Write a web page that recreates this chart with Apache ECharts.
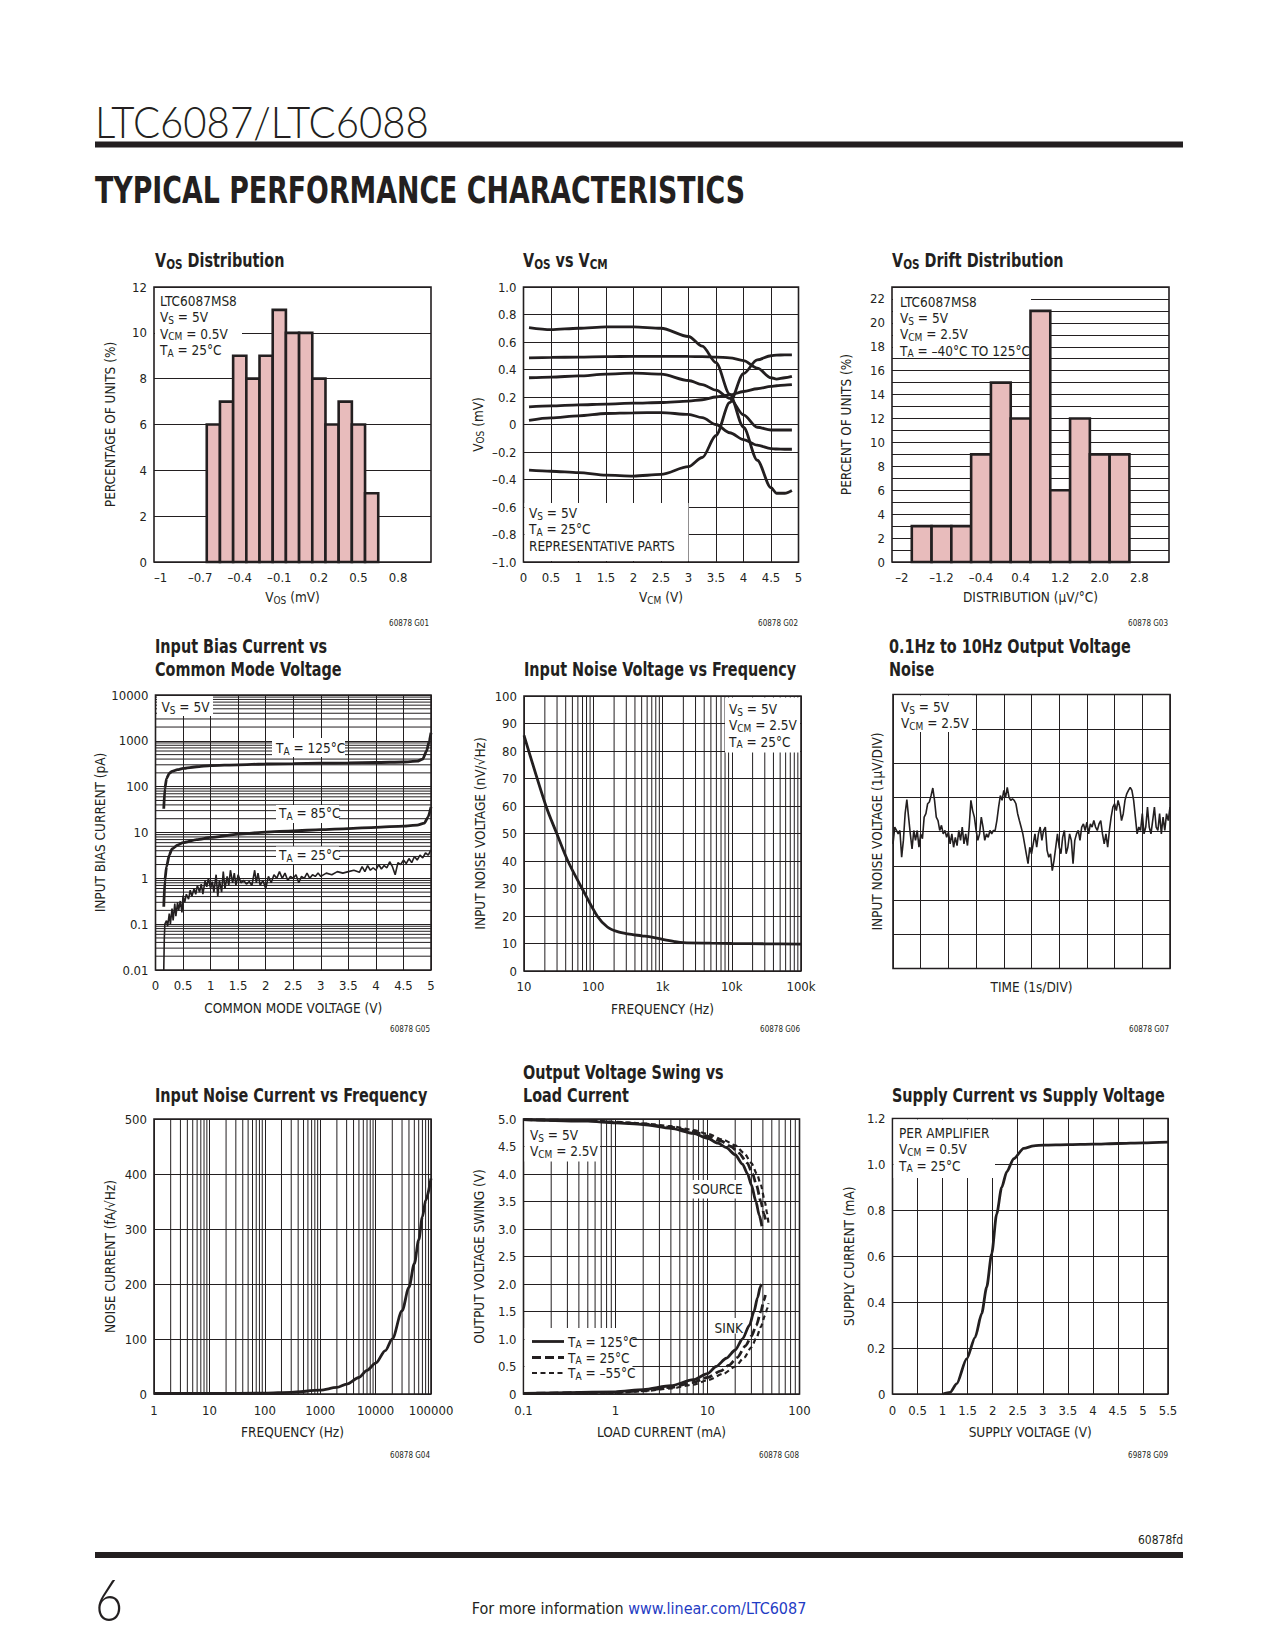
<!DOCTYPE html>
<html><head><meta charset="utf-8">
<script src="https://cdn.jsdelivr.net/npm/echarts@6/dist/echarts.min.js"></script>
<style>html,body{margin:0;padding:0;background:#fff}#c{width:1275px;height:1650px}</style>
</head><body><div id="c"></div>
<script>
// ---------------- DATA ----------------
// G01 VOS distribution
const vosCenters = [-0.6,-0.5,-0.4,-0.3,-0.2,-0.1,0,0.1,0.2,0.3,0.4,0.5,0.6];
const vosPct = [6,7,9,8,9,11,10,10,8,6,7,6,3];
const vosBinWidth = 0.1;
const vosTicks = [-1,-0.7,-0.4,-0.1,0.2,0.5,0.8];
// G02 VOS vs VCM
const vcm = [0.1,0.5,1,1.5,2,2.5,3,3.25,3.5,3.75,4,4.25,4.5,4.6,4.75,4.88];
const vosA = [0.705,0.69,0.70,0.71,0.71,0.70,0.64,0.57,0.45,0.22,-0.02,-0.26,-0.46,-0.50,-0.50,-0.48];
const vosB = [0.484,0.488,0.49,0.493,0.496,0.496,0.495,0.493,0.49,0.485,0.465,0.41,0.34,0.33,0.34,0.35];
const vosC = [0.34,0.345,0.353,0.366,0.373,0.366,0.32,0.29,0.25,0.19,0.07,-0.02,-0.04,-0.04,-0.04,-0.04];
const vosD = [0.128,0.135,0.143,0.148,0.155,0.16,0.17,0.18,0.20,0.215,0.24,0.26,0.277,0.282,0.287,0.29];
const vosE = [0.03,0.048,0.063,0.08,0.085,0.087,0.073,0.05,0.0,-0.06,-0.11,-0.15,-0.175,-0.178,-0.18,-0.18];
const vosF = [-0.332,-0.34,-0.35,-0.368,-0.375,-0.363,-0.307,-0.24,-0.08,0.16,0.37,0.47,0.50,0.505,0.506,0.506];
// G03 VOS drift distribution
const driftCenters = [-1.6,-1.2,-0.8,-0.4,0,0.4,0.8,1.2,1.6,2.0,2.4];
const driftPct = [3,3,3,9,15,12,21,6,12,9,9];
const driftBinWidth = 0.4;
const driftTicks = [-2,-1.2,-0.4,0.4,1.2,2.0,2.8];
// G05 input bias current (pA) vs VCM
const bias125 = [[0.15,33],[0.17,90],[0.2,150],[0.25,195],[0.3,215],[0.4,235],[0.5,250],[0.75,272],[1,288],[1.5,300],[2,312],[2.5,318],[3,325],[3.5,330],[4,337],[4.5,345],[4.75,360],[4.85,400],[4.92,600],[4.97,1000],[5,1500]];
const bias85 = [[0.15,0.24],[0.17,0.9],[0.2,1.8],[0.25,3.2],[0.3,4.4],[0.4,5.3],[0.5,6],[0.75,7],[1,7.8],[1.5,9.2],[2,10.2],[2.5,10.9],[3,11.5],[3.5,12.2],[4,13],[4.5,13.8],[4.75,14.5],[4.88,16],[4.95,22],[5,36]];
const bias25 = [[0.15,0.01],[0.16,0.05],[0.17,0.1],[0.2,0.12],[0.22,0.09],[0.25,0.17],[0.27,0.1],[0.3,0.22],[0.32,0.12],[0.35,0.28],[0.37,0.15],[0.4,0.3],[0.42,0.2],[0.45,0.32],[0.48,0.18],[0.5,0.42],[0.53,0.3],[0.56,0.45],[0.6,0.35],[0.63,0.55],[0.66,0.4],[0.7,0.6],[0.73,0.45],[0.76,0.7],[0.8,0.5],[0.83,0.75],[0.86,0.45],[0.9,0.9],[0.93,0.65],[0.96,1.0],[1.0,0.6],[1.03,0.85],[1.06,0.5],[1.1,1.2],[1.13,0.4],[1.16,0.9],[1.2,0.5],[1.23,1.4],[1.26,0.6],[1.3,1.1],[1.33,0.7],[1.36,1.5],[1.4,0.8],[1.43,1.3],[1.46,0.7],[1.5,1.2],[1.55,0.8],[1.6,0.9],[1.65,0.75],[1.7,0.85],[1.75,0.7],[1.8,1.5],[1.83,0.8],[1.86,1.3],[1.9,0.7],[1.95,0.9],[2.0,0.6],[2.05,1.1],[2.1,0.8],[2.15,1.2],[2.2,1.0],[2.25,1.4],[2.3,1.0],[2.35,1.3],[2.4,0.9],[2.45,1.1],[2.5,1.0],[2.55,1.2],[2.6,0.8],[2.65,1.1],[2.7,1.0],[2.75,1.3],[2.8,1.0],[2.85,1.2],[2.9,1.1],[2.95,1.3],[3.0,1.1],[3.1,1.3],[3.2,1.2],[3.3,1.4],[3.4,1.3],[3.5,1.4],[3.6,1.5],[3.7,1.35],[3.75,1.8],[3.8,1.4],[3.85,1.9],[3.9,1.5],[3.95,1.7],[4.0,1.5],[4.05,2.0],[4.1,1.6],[4.15,1.9],[4.2,1.7],[4.25,2.3],[4.3,1.8],[4.35,1.2],[4.4,2.2],[4.45,2.0],[4.5,2.5],[4.55,2.1],[4.6,2.7],[4.65,2.2],[4.7,3.0],[4.75,2.5],[4.8,3.2],[4.85,2.8],[4.9,3.6],[4.95,3.2],[5.0,4.2]];
// G06 input noise voltage vs frequency
const enFreq = [10,20.75,29.7,43,69,114,160,224,314,500,700,1000,1500,2000,5000,10000,30000,100000];
const enVal = [85.7,60,50,40,30,20,16,14.3,13.5,12.8,12.3,11.5,10.7,10.3,10.1,10.0,9.9,9.8];
// G07 0.1Hz to 10Hz noise (uV), evenly spaced over 10 s
const lfNoise = [-0.36,0.13,0.03,-0.07,0.03,-0.75,-0.26,0.52,0.93,0.42,-0.07,-0.51,0.03,-0.26,0.03,-0.46,-0.07,-0.21,0.42,0.52,0.81,0.86,1.05,1.27,0.91,0.42,0.32,0.03,0.18,-0.07,0.03,-0.17,-0.02,-0.36,-0.07,-0.46,-0.17,-0.41,0.03,-0.26,0.13,-0.36,-0.07,-0.41,0.13,0.91,0.61,0.42,0.03,-0.26,-0.07,0.42,0.13,-0.26,-0.07,-0.17,0.03,-0.07,0.03,0.03,0.32,0.71,1.05,0.91,1.2,1.0,1.29,1.0,0.91,0.95,0.91,0.81,0.52,0.32,0.13,-0.07,-0.36,-0.65,-0.94,-0.46,-0.65,-0.36,-0.07,-0.46,-0.07,0.13,-0.26,0.03,0.13,-0.55,-0.75,-0.65,-1.14,-0.85,-0.46,-0.07,-0.46,-0.65,-0.17,0.03,-0.65,-0.46,-0.07,-0.26,-0.94,-0.26,-0.07,0.03,-0.26,0.13,0.22,0.03,0.27,-0.07,0.22,0.13,0.32,0.13,0.03,0.22,0.32,-0.07,-0.36,-0.07,-0.46,0.03,0.42,0.71,0.81,0.61,0.91,0.71,0.32,0.52,0.91,1.1,1.2,1.29,1.2,0.91,0.42,-0.07,0.13,0.03,0.52,-0.07,0.13,0.71,0.13,-0.07,0.32,0.71,0.13,0.03,0.52,-0.07,0.42,0.03,0.52,0.32,0.71];
const lfDuration = 10;
// G04 input noise current vs frequency
const inFreq = [1,10,100,300,1000,2000,3000,5000,7000,10000,15000,20000,30000,40000,50000,60000,70000,80000,100000];
const inVal = [1,1,1.5,3,7,12,18,30,43,56,79,100,151,194,237,280,322,352,392];
// G08 output voltage swing vs load current (mA, V)
const src125 = [[0.1,4.99],[0.5,4.96],[1,4.93],[2,4.90],[4,4.83],[7,4.74],[10,4.65],[13,4.56],[16,4.48],[20,4.35],[24,4.18],[27.3,4.0],[30,3.8],[33.6,3.5],[36.5,3.25],[39,3.05]];
const src25 = [[0.1,4.99],[0.5,4.97],[1,4.94],[2,4.91],[4,4.85],[7,4.77],[10,4.69],[14,4.60],[18,4.50],[22,4.38],[27,4.2],[31,4.0],[34,3.8],[38,3.5],[41,3.28],[43.5,3.1]];
const srcM55 = [[0.1,4.99],[0.5,4.97],[1,4.95],[2,4.92],[4,4.87],[7,4.80],[10,4.73],[15,4.62],[20,4.52],[25,4.38],[30,4.2],[34.5,4.0],[38,3.8],[42,3.5],[44.5,3.28],[46,3.1]];
const snk125 = [[0.1,0.01],[1,0.04],[2,0.08],[4,0.15],[7,0.26],[10,0.37],[12.4,0.5],[16,0.65],[20,0.8],[24,1.0],[28.6,1.25],[32,1.5],[35,1.75],[37.5,1.95],[38.5,2.0]];
const snk25 = [[0.1,0.01],[1,0.03],[2,0.06],[4,0.12],[7,0.21],[10,0.3],[14,0.42],[17,0.52],[21,0.66],[26,0.88],[30,1.05],[34,1.25],[38,1.5],[41,1.7],[42.6,1.8]];
const snkM55 = [[0.1,0.01],[1,0.02],[2,0.05],[4,0.1],[7,0.17],[10,0.25],[15,0.37],[20,0.5],[25,0.66],[30,0.85],[34,1.02],[38,1.22],[42,1.42],[44.5,1.55],[46,1.65]];
const swingLegend = ['T_{A} = 125\u00b0C', 'T_{A} = 25\u00b0C', 'T_{A} = \u201355\u00b0C'];
// G09 supply current vs supply voltage
const vsup = [1.0,1.15,1.28,1.48,1.65,1.78,1.88,1.98,2.08,2.18,2.28,2.42,2.62,2.82,3.02,3.5,4,4.5,5,5.5];
const isup = [0,0.007,0.044,0.153,0.247,0.35,0.465,0.61,0.785,0.9,0.967,1.025,1.07,1.081,1.084,1.086,1.088,1.091,1.094,1.097];

// ---------------- STYLE ----------------
const INK = '#231f20';
const FONT = "'Liberation Sans Narrow','Arial Narrow','DejaVu Sans Condensed',sans-serif";
const PINK = '#e8bcbc';

function R(str, n, s) {
  return str.split('\n').map(line => {
    let out = '', re = /_\{([^}]*)\}/g, last = 0, m;
    while ((m = re.exec(line))) {
      if (m.index > last) out += '{' + n + '|' + line.slice(last, m.index) + '}';
      out += '{' + s + '|' + m[1] + '}';
      last = re.lastIndex;
    }
    if (last < line.length) out += '{' + n + '|' + line.slice(last) + '}';
    return out;
  }).join('\n');
}
const RICH = {
  n: {fontFamily: FONT, fontSize: 13.5, fontWeight: 'normal', color: INK, lineHeight: 16.3},
  s: {fontFamily: FONT, fontSize: 10, fontWeight: 'normal', color: INK, lineHeight: 9, verticalAlign: 'bottom'},
  an: {fontFamily: FONT, fontSize: 13.5, fontWeight: 'normal', color: INK, lineHeight: 16},
  as: {fontFamily: FONT, fontSize: 10, fontWeight: 'normal', color: INK, lineHeight: 9, verticalAlign: 'bottom'}
};
// zrender rich styles for graphic (title) text
const GRICH = {
  tn: {fontFamily: FONT, fontSize: 20, fontWeight: 'bold', fill: INK, lineHeight: 23},
  ts: {fontFamily: FONT, fontSize: 14.5, fontWeight: 'bold', fill: INK, lineHeight: 13, verticalAlign: 'bottom'}
};

const dash = v => (v < 0 ? '\u2013' : '') + Math.abs(v);
const dash1 = v => v === 0 ? '0' : (v < 0 ? '\u2013' : '') + Math.abs(v).toFixed(1);
const fix1 = v => v === 0 ? '0' : v.toFixed(1);
const logLbl = v => { const e = Math.round(Math.log10(v)); return e >= 0 ? String(Math.pow(10, e)) : Math.pow(10, e).toFixed(-e); };
const kLbl = v => { const e = Math.round(Math.log10(v)); return e >= 3 ? Math.pow(10, e - 3) + 'k' : String(Math.pow(10, e)); };
function minorLogs(lo, hi) { const r = []; for (let d = lo; d < hi; d *= 10) for (let m = 2; m <= 9; m++) r.push(+(d * m).toPrecision(3)); return r; }

const grids = [
  {left: 154, top: 287, width: 277, height: 275},
  {left: 523.5, top: 287, width: 275, height: 275},
  {left: 892, top: 287, width: 277, height: 275},
  {left: 155.5, top: 695, width: 275.5, height: 275},
  {left: 524, top: 696, width: 277, height: 275},
  {left: 893, top: 694.5, width: 277, height: 274},
  {left: 154, top: 1119, width: 277, height: 275},
  {left: 523.5, top: 1119, width: 276, height: 275},
  {left: 892.5, top: 1118.5, width: 275.5, height: 275.5}
].map(g => Object.assign({show: true, borderColor: INK, borderWidth: 1.6, backgroundColor: 'transparent', outerBoundsMode: 'none'}, g));

function mkAxis(gi, type, o) {
  const a = {
    gridIndex: gi, type: type,
    axisLine: {show: false}, axisTick: {show: false},
    splitLine: {show: o.split !== false, lineStyle: {color: INK, width: 1}},
    axisLabel: Object.assign({color: INK, fontFamily: FONT, fontSize: 13, margin: o.margin || 8}, o.label || {}),
    name: o.name ? R(o.name, 'an', 'as') : '',
    nameLocation: 'middle', nameGap: o.gap,
    nameTextStyle: {color: INK, fontFamily: FONT, fontSize: 13.5, rich: RICH},
    min: o.min, max: o.max
  };
  if (o.interval != null) a.interval = o.interval;
  if (type === 'log') a.logBase = 10;
  return a;
}

const xAxis = [
  mkAxis(0, 'value', {min: -1.05, max: 1.05, split: false, name: 'V_{OS} (mV)', gap: 27, margin: 8.5, label: {customValues: vosTicks, formatter: dash}}),
  mkAxis(1, 'value', {min: 0, max: 5, interval: 0.5, name: 'V_{CM} (V)', gap: 27, margin: 8.5}),
  mkAxis(2, 'value', {min: -2.2, max: 3.4, split: false, name: 'DISTRIBUTION (\u00b5V/\u00b0C)', gap: 27, margin: 8.5, label: {customValues: driftTicks, formatter: v => v === -2 ? '\u20132' : dash1(v)}}),
  mkAxis(3, 'value', {min: 0, max: 5, interval: 0.5, name: 'COMMON MODE VOLTAGE (V)', gap: 30, margin: 9}),
  mkAxis(4, 'log', {min: 10, max: 100000, name: 'FREQUENCY (Hz)', gap: 30, margin: 9, label: {formatter: kLbl}}),
  mkAxis(5, 'value', {min: 0, max: 10, interval: 1, name: 'TIME (1s/DIV)', gap: 10, label: {show: false}}),
  mkAxis(6, 'log', {min: 1, max: 100000, name: 'FREQUENCY (Hz)', gap: 29.5, margin: 9.5, label: {formatter: logLbl}}),
  mkAxis(7, 'log', {min: 0.1, max: 100, name: 'LOAD CURRENT (mA)', gap: 29.5, margin: 9.5, label: {formatter: logLbl}}),
  mkAxis(8, 'value', {min: 0, max: 5.5, interval: 0.5, name: 'SUPPLY VOLTAGE (V)', gap: 29.5, margin: 9.5})
];
const yAxis = [
  mkAxis(0, 'value', {min: 0, max: 12, interval: 2, name: 'PERCENTAGE OF UNITS (%)', gap: 36, margin: 7}),
  mkAxis(1, 'value', {min: -1, max: 1, interval: 0.2, name: 'V_{OS} (mV)', gap: 38, margin: 7, label: {formatter: dash1}}),
  mkAxis(2, 'value', {min: 0, max: 23, interval: 1, name: 'PERCENT OF UNITS (%)', gap: 38, margin: 7, label: {customValues: [0,2,4,6,8,10,12,14,16,18,20,22]}}),
  mkAxis(3, 'log', {min: 0.01, max: 10000, name: 'INPUT BIAS CURRENT (pA)', gap: 36, margin: 7, label: {formatter: logLbl}}),
  mkAxis(4, 'value', {min: 0, max: 100, interval: 10, name: 'INPUT NOISE VOLTAGE (nV/\u221aHz)', gap: 36.5, margin: 7}),
  mkAxis(5, 'value', {min: -4, max: 4, interval: 1, name: 'INPUT NOISE VOLTAGE (1\u00b5V/DIV)', gap: 8, label: {show: false}}),
  mkAxis(6, 'value', {min: 0, max: 500, interval: 100, name: 'NOISE CURRENT (fA/\u221aHz)', gap: 36, margin: 7}),
  mkAxis(7, 'value', {min: 0, max: 5, interval: 0.5, name: 'OUTPUT VOLTAGE SWING (V)', gap: 37, margin: 7, label: {formatter: fix1}}),
  mkAxis(8, 'value', {min: 0, max: 1.2, interval: 0.2, name: 'SUPPLY CURRENT (mA)', gap: 36, margin: 7, label: {formatter: fix1}})
];

function hist(gi, centers, vals, w) {
  return {type: 'custom', xAxisIndex: gi, yAxisIndex: gi, z: 4, silent: true,
    data: centers.map((c, i) => [c, vals[i]]),
    renderItem: (params, api) => {
      const c = api.value(0), v = api.value(1);
      const p0 = api.coord([c - w / 2, 0]), p1 = api.coord([c + w / 2, v]);
      return {type: 'rect', shape: {x: p0[0], y: p1[1], width: p1[0] - p0[0], height: p0[1] - p1[1]},
        style: {fill: PINK, stroke: INK, lineWidth: 2.6}};
    }};
}
function minorGrid(gi, vals, dir, ref) {
  return {type: 'custom', xAxisIndex: gi, yAxisIndex: gi, z: 1, silent: true,
    data: vals.map(v => dir === 'v' ? [v, ref] : [ref, v]),
    renderItem: (params, api) => {
      const cs = params.coordSys;
      const p = api.coord([api.value(0), api.value(1)]);
      const shape = dir === 'v' ? {x1: p[0], y1: cs.y, x2: p[0], y2: cs.y + cs.height}
                                : {x1: cs.x, y1: p[1], x2: cs.x + cs.width, y2: p[1]};
      return {type: 'line', shape: shape, style: {stroke: INK, lineWidth: 1}};
    }};
}
function line(gi, data, o) {
  return Object.assign({type: 'line', xAxisIndex: gi, yAxisIndex: gi, data: data, symbol: 'none',
    smooth: 0.3, smoothMonotone: 'x', z: 4, silent: true,
    lineStyle: {color: INK, width: 2.8}, itemStyle: {color: INK}}, o || {});
}
const zip = (xs, ys) => xs.map((x, i) => [x, ys[i]]);
const LS_SOLID = {color: INK, width: 2.8};
const LS_LONG = {color: INK, width: 2.8, type: [9, 4]};
const LS_SHORT = {color: INK, width: 2.2, type: [5, 3.5]};

const series = [
  hist(0, vosCenters, vosPct, vosBinWidth),
  line(1, zip(vcm, vosA)), line(1, zip(vcm, vosB)), line(1, zip(vcm, vosC)),
  line(1, zip(vcm, vosD)), line(1, zip(vcm, vosE)), line(1, zip(vcm, vosF)),
  hist(2, driftCenters, driftPct, driftBinWidth),
  minorGrid(3, minorLogs(0.01, 10000), 'h', 2.5),
  line(3, bias125, {smooth: 0.2}), line(3, bias85, {smooth: 0.2}),
  line(3, bias25, {smooth: false, lineStyle: {color: INK, width: 1.6}}),
  minorGrid(4, minorLogs(10, 100000), 'v', 50),
  line(4, zip(enFreq, enVal), {smooth: 0.3, smoothMonotone: null}),
  line(5, lfNoise.map((v, i) => [i * lfDuration / (lfNoise.length - 1), v]), {smooth: false, lineStyle: {color: INK, width: 1.6}}),
  minorGrid(6, minorLogs(1, 100000), 'v', 250),
  line(6, zip(inFreq, inVal)),
  minorGrid(7, minorLogs(0.1, 100), 'v', 2.5),
  line(7, src125, {name: swingLegend[0], smooth: 0.25, lineStyle: LS_SOLID}),
  line(7, snk125, {name: swingLegend[0], smooth: 0.25, lineStyle: LS_SOLID}),
  line(7, src25, {name: swingLegend[1], smooth: 0.25, lineStyle: LS_LONG}),
  line(7, snk25, {name: swingLegend[1], smooth: 0.25, lineStyle: LS_LONG}),
  line(7, srcM55, {name: swingLegend[2], smooth: 0.25, lineStyle: LS_SHORT}),
  line(7, snkM55, {name: swingLegend[2], smooth: 0.25, lineStyle: LS_SHORT}),
  line(8, zip(vsup, isup), {smooth: 0.25})
];

// ---------------- annotations (title components, rich text) ----------------
function T(text, left, top) {
  return {text: R(text, 'n', 's'), left: left, top: top, padding: 0,
    textStyle: {rich: RICH, fontFamily: FONT, color: INK, fontWeight: 'normal'}};
}
const notes = [
  T('LTC6087MS8\nV_{S} = 5V\nV_{CM} = 0.5V\nT_{A} = 25\u00b0C', 160, 293),
  T('V_{S} = 5V\nT_{A} = 25\u00b0C\nREPRESENTATIVE PARTS', 529, 505),
  T('LTC6087MS8\nV_{S} = 5V\nV_{CM} = 2.5V\nT_{A} = \u201340\u00b0C TO 125\u00b0C', 900, 293.5),
  T('V_{S} = 5V', 161.5, 699),
  T('T_{A} = 125\u00b0C', 276, 740),
  T('T_{A} = 85\u00b0C', 279, 805),
  T('T_{A} = 25\u00b0C', 279, 847),
  T('V_{S} = 5V\nV_{CM} = 2.5V\nT_{A} = 25\u00b0C', 729, 701),
  T('V_{S} = 5V\nV_{CM} = 2.5V', 901, 699),
  T('V_{S} = 5V\nV_{CM} = 2.5V', 530, 1127),
  T('SOURCE', 692.5, 1181),
  T('SINK', 714.6, 1320),
  T('PER AMPLIFIER\nV_{CM} = 0.5V\nT_{A} = 25\u00b0C', 899, 1125),
  T(swingLegend[0], 568, 1333.5),
  T(swingLegend[1], 568, 1349.5),
  T(swingLegend[2], 568, 1365)
];
// chart titles [text, left, top]
const chartTitles = [
  ['V_{OS} Distribution', 155, 248.5],
  ['V_{OS} vs V_{CM}', 523, 248.5],
  ['V_{OS} Drift Distribution', 892, 248.5],
  ['Input Bias Current vs\nCommon Mode Voltage', 155, 634.5],
  ['Input Noise Voltage vs Frequency', 524, 657.5],
  ['0.1Hz to 10Hz Output Voltage\nNoise', 889, 634.5],
  ['Input Noise Current vs Frequency', 155, 1083.5],
  ['Output Voltage Swing vs\nLoad Current', 523, 1060.5],
  ['Supply Current vs Supply Voltage', 892, 1083.5]
];
// figure ids
const ids = [['60878 G01', 429, 623], ['60878 G02', 798, 623], ['60878 G03', 1168, 623],
             ['60878 G05', 430, 1029], ['60878 G06', 800, 1029], ['60878 G07', 1169, 1029],
             ['60878 G04', 430, 1455], ['60878 G08', 799, 1455], ['69878 G09', 1168, 1455]];

// white boxes that hide grid lines behind annotations [x, y, w, h]
const boxes = [[155, 288.5, 87, 76], [524.5, 503, 164, 58], [893, 288.5, 138, 67],
  [157, 696, 56, 20], [272, 738, 73, 19], [276, 805, 63, 18], [276, 846.5, 63, 17.5],
  [725, 697.5, 75, 55], [894, 695.5, 78, 36.5], [524.5, 1120.5, 75.5, 41],
  [524.5, 1328, 108, 65], [690, 1180, 54, 18.5], [710, 1318, 34, 15.5], [893.5, 1119.5, 101.5, 58.5]];

// ---------------- header / footer ----------------
const mctx = document.createElement('canvas').getContext('2d');
function fitText(text, font, x, y, targetW, fill) {
  mctx.font = font;
  const w = mctx.measureText(text).width || targetW;
  return {type: 'text', x: x, y: y, scaleX: targetW / w, z: 10,
    style: {text: text, font: font, fill: fill || INK, verticalAlign: 'middle', align: 'left'}};
}
const THIN = "'DejaVu Sans ExtraLight','Lato','DejaVu Sans',sans-serif";
const graphics = [
  fitText('LTC6087/LTC6088', '300 44px ' + THIN, 95, 121, 334),
  {type: 'rect', shape: {x: 95, y: 141.5, width: 1088, height: 6}, style: {fill: INK}, z: 10},
  fitText('TYPICAL PERFORMANCE CHARACTERISTICS', '900 38px "DejaVu Sans",sans-serif', 95, 190, 650),
  {type: 'rect', shape: {x: 95, y: 1552, width: 1088, height: 6}, style: {fill: INK}, z: 10},
  {type: 'text', x: 1183, y: 1540, z: 10, style: {text: '60878fd', font: '12px ' + FONT, fill: INK, align: 'right', verticalAlign: 'middle'}},
  fitText('6', '300 58px ' + THIN, 95, 1598, 28),
  {type: 'text', x: 639, y: 1608, z: 10, style: {text: '{a|For more information }{b|www.linear.com/LTC6087}', align: 'center', verticalAlign: 'middle',
    rich: {a: {fontFamily: FONT, fontSize: 16, fill: INK}, b: {fontFamily: FONT, fontSize: 16, fill: '#1f3cc4'}}}}
];
chartTitles.forEach(([t, x, y]) => graphics.push({type: 'text', x: x, y: y, scaleX: 0.8, z: 10,
  style: {text: R(t, 'tn', 'ts'), rich: GRICH, fill: INK, verticalAlign: 'top', align: 'left'}}));
ids.forEach(([t, x, y]) => graphics.push({type: 'text', x: x, y: y, z: 10,
  style: {text: t, font: '8px ' + FONT, fill: INK, align: 'right', verticalAlign: 'middle'}}));
boxes.forEach(([x, y, w, h]) => graphics.push({type: 'rect', z: 3, shape: {x: x, y: y, width: w, height: h}, style: {fill: '#fff'}}));
// legend samples for G08 (line styles of the three temperature series)
[[LS_SOLID, 1341.5], [LS_LONG, 1357.5], [LS_SHORT, 1373]].forEach(([ls, y]) => graphics.push({type: 'line', z: 10,
  shape: {x1: 532, y1: y, x2: 564, y2: y},
  style: {stroke: ls.color, lineWidth: ls.width, lineDash: ls.type || null}}));

const chart = echarts.init(document.getElementById('c'), null, {renderer: 'svg', width: 1275, height: 1650});
chart.setOption({
  backgroundColor: '#fff',
  animation: false,
  textStyle: {fontFamily: FONT, color: INK},
  title: notes,
  grid: grids,
  xAxis: xAxis,
  yAxis: yAxis,
  series: series,
  graphic: {elements: graphics}
});
</script></body></html>
